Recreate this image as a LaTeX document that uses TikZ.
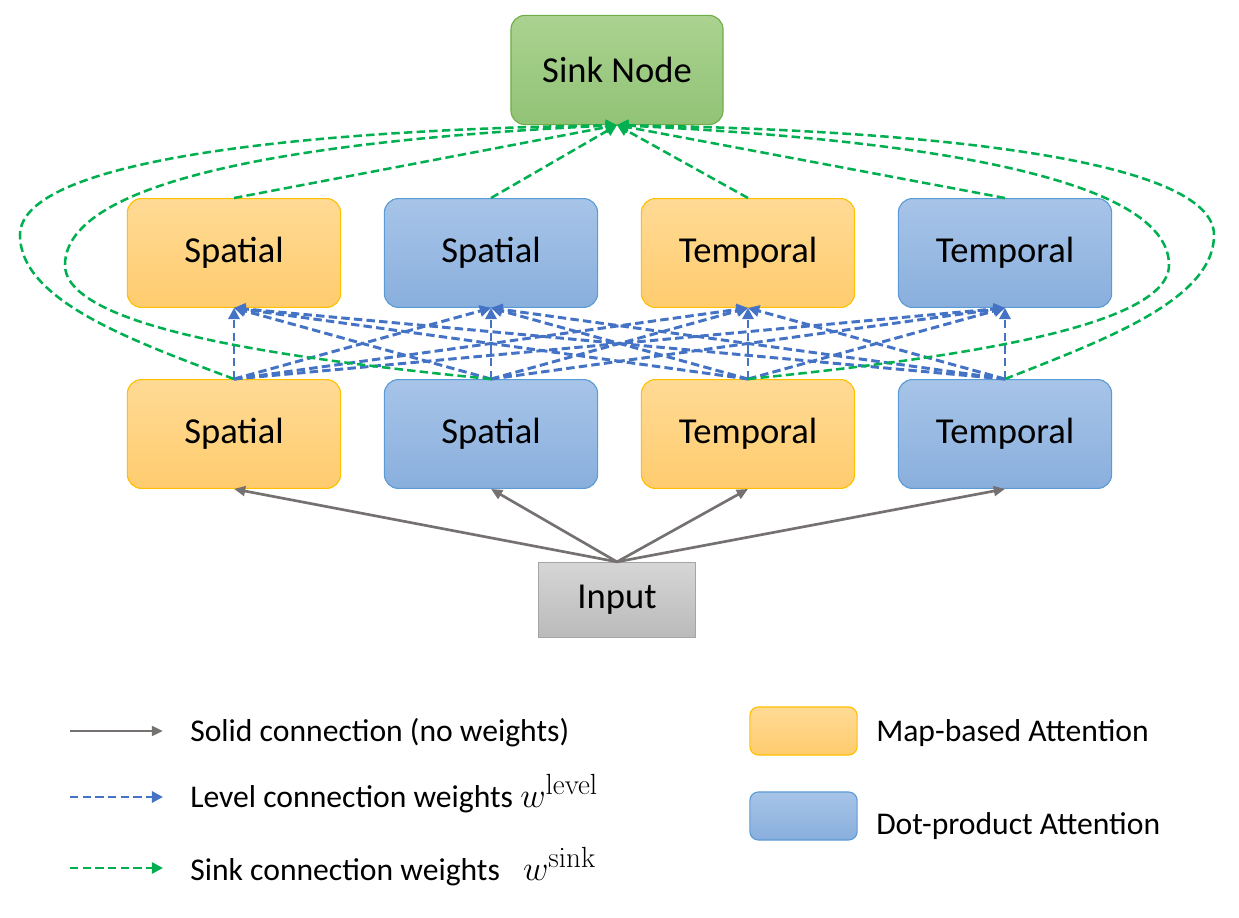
\documentclass[tikz,border=0pt]{standalone}
\usepackage[no-math]{fontspec}
\setmainfont{Carlito}
\usetikzlibrary{arrows.meta}

\definecolor{mapline}{HTML}{FFC000}
\definecolor{maptop}{HTML}{FFDA95}
\definecolor{mapbot}{HTML}{FFCC6E}
\definecolor{dotline}{HTML}{5B9BD5}
\definecolor{dottop}{HTML}{A7C4E8}
\definecolor{dotbot}{HTML}{89AFDD}
\definecolor{sinkline}{HTML}{70AD47}
\definecolor{sinktop}{HTML}{ABD290}
\definecolor{sinkbot}{HTML}{91C376}
\definecolor{inputline}{HTML}{A5A5A5}
\definecolor{inputtop}{HTML}{D6D6D6}
\definecolor{inputbot}{HTML}{BABABA}
\definecolor{levelblue}{HTML}{4472C4}
\definecolor{sinkgreen}{HTML}{00B050}
\definecolor{solidgray}{HTML}{767171}

\tikzset{
  box/.style={rounded corners=10pt, line width=0.8pt, minimum width=5.33cm,
    minimum height=2.72cm, font=\fontsize{26}{30}\selectfont},
  mapbox/.style={box, draw=mapline, top color=maptop, bottom color=mapbot},
  dotbox/.style={box, draw=dotline, top color=dottop, bottom color=dotbot},
  sinkbox/.style={box, draw=sinkline, top color=sinktop, bottom color=sinkbot,
    minimum width=5.3cm, minimum height=2.73cm},
  inputbox/.style={draw=inputline, line width=0.8pt, top color=inputtop,
    bottom color=inputbot, minimum width=3.93cm, minimum height=1.88cm,
    font=\fontsize{26}{30}\selectfont},
  legbox/.style={rounded corners=6pt, line width=0.8pt, minimum width=2.68cm,
    minimum height=1.2cm},
  solidarrow/.style={draw=solidgray, line width=1.9pt,
    -{Triangle[length=8pt,width=7pt]}},
  levelarrow/.style={draw=levelblue, line width=2.1pt, dash pattern=on 6pt off 3pt,
    -{Triangle[length=8pt,width=8pt]}},
  sinkarrow/.style={draw=sinkgreen, line width=1.8pt, dash pattern=on 6pt off 3pt,
    -{Triangle[length=8pt,width=8pt]}},
  legtext/.style={anchor=base west, inner sep=0pt, font=\fontsize{22.5}{26}\selectfont}
}

\newcommand{\bigw}[1]{{\fontsize{28}{30}\selectfont$w^{\mathrm{#1}}$}}

\begin{document}
\begin{tikzpicture}[x=0.025cm, y=-0.025cm]
  \useasboundingbox (0,0) rectangle (1239,918);

  % nodes
  \node[sinkbox] (sink) at (617,70) {Sink Node};

  \node[mapbox] (up1) at (234,253) {Spatial};
  \node[dotbox] (up2) at (491,253) {Spatial};
  \node[mapbox] (up3) at (748,253) {Temporal};
  \node[dotbox] (up4) at (1005,253) {Temporal};

  \node[mapbox] (lo1) at (234,434) {Spatial};
  \node[dotbox] (lo2) at (491,434) {Spatial};
  \node[mapbox] (lo3) at (748,434) {Temporal};
  \node[dotbox] (lo4) at (1005,434) {Temporal};

  \node[inputbox] (input) at (617,600) {Input};

  % solid connections
  \foreach \i in {1,...,4}
    \draw[solidarrow] (input.north) -- (lo\i.south);

  % level connections
  \foreach \i in {1,...,4}
    \foreach \j in {1,...,4}
      \draw[levelarrow] (lo\i.north) -- (up\j.south);

  % sink connections
  \foreach \i in {1,...,4}
    \draw[sinkarrow] (up\i.north) -- (sink.south);
  \draw[sinkarrow] (lo1.north) .. controls (130,340) and (20,300) .. (20,235)
                             .. controls (20,160) and (300,130) .. (sink.south);
  \draw[sinkarrow] (lo2.north) .. controls (300,360) and (65,330) .. (65,265)
                             .. controls (65,180) and (300,140) .. (sink.south);
  \draw[sinkarrow] (lo4.north) .. controls (1104,340) and (1214,300) .. (1214,235)
                             .. controls (1214,160) and (934,130) .. (sink.south);
  \draw[sinkarrow] (lo3.north) .. controls (934,360) and (1169,330) .. (1169,265)
                             .. controls (1169,180) and (934,140) .. (sink.south);

  % legend
  \coordinate (solidA) at (70,731);  \coordinate (solidB) at (163,731);
  \coordinate (levelA) at (70,797);  \coordinate (levelB) at (163,797);
  \coordinate (sinkA) at (70,868);   \coordinate (sinkB) at (163,868);
  \draw[solidarrow] (solidA) -- (solidB);
  \draw[levelarrow] (levelA) -- (levelB);
  \draw[sinkarrow] (sinkA) -- (sinkB);
  \node[legtext] (solidtxt) at (190,741) {Solid connection (no weights)};
  \node[legtext] (leveltxt) at (190,807) {Level connection weights \bigw{level}};
  \node[legtext] (sinktxt) at (190,880) {Sink connection weights\hspace{0.5em} \bigw{sink}};

  \node[legbox, draw=mapline, top color=maptop, bottom color=mapbot] (mapkey) at (803.5,731) {};
  \node[legbox, draw=dotline, top color=dottop, bottom color=dotbot] (dotkey) at (803.5,816) {};
  \node[legtext] (maptxt) at (876,741) {Map-based Attention};
  \node[legtext] (dottxt) at (876,834) {Dot-product Attention};
\end{tikzpicture}
\end{document}
